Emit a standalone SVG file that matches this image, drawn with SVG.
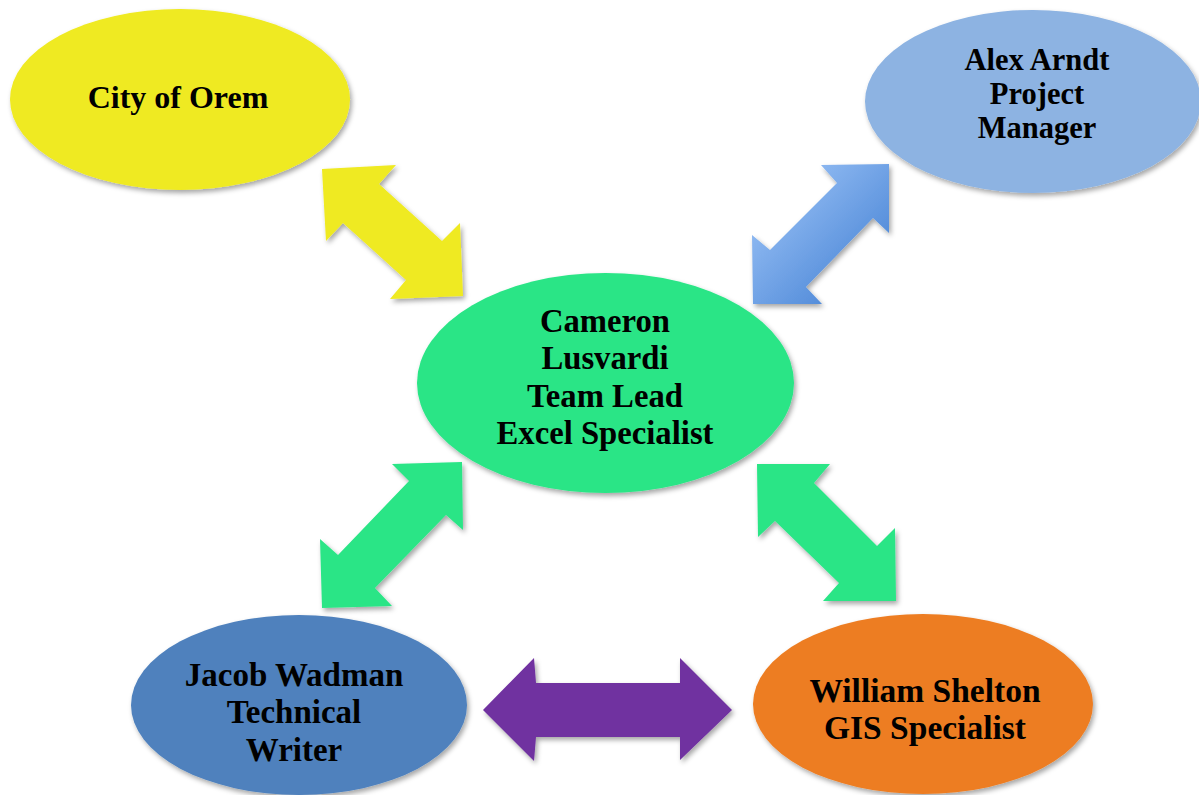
<svg xmlns="http://www.w3.org/2000/svg" width="1199" height="795" viewBox="0 0 1199 795">
  <style>
    .label { font-family: "Liberation Serif", "Times New Roman", serif; font-weight: bold; fill: #000; text-anchor: middle; }
    .shape { filter: url(#shadow); }
  </style>
  <defs>
    <filter id="shadow" x="-10%" y="-10%" width="125%" height="125%">
      <feDropShadow dx="2" dy="3" stdDeviation="2.5" flood-color="#000" flood-opacity="0.35"/>
    </filter>
    <linearGradient id="blueArrow" x1="0" y1="0" x2="1" y2="1">
      <stop offset="0" stop-color="#A6CBFB"/>
      <stop offset="1" stop-color="#3B7AD0"/>
    </linearGradient>
  </defs>

  <rect width="1199" height="795" fill="#fff"/>

  <!-- connectors: double-headed block arrows -->
  <g id="connectors">
    <polygon class="shape" fill="#EFEA20" points="322,169 396,165 379,184 442,241 460,223 463,296 390,299 406,280 343,223 326,241"/>
    <polygon class="shape" fill="url(#blueArrow)" points="889,164 821,165 837,183 770,250 752,235 753,304 822,304 806,287 873,218 889,233"/>
    <polygon class="shape" fill="#2AE586" points="462,462 392,464 409,481 338,555 320,539 322,608 392,606 375,588 446,515 463,530"/>
    <polygon class="shape" fill="#2AE586" points="757,464 830,464 814,483 877,546 895,528 896,601 823,601 839,583 775,521 758,537"/>
    <polygon class="shape" fill="#7030A0" points="483,710 534,658 536,683 680,683 680,658 732,710 680,760 680,737 536,737 534,761"/>
  </g>

  <g id="city-of-orem">
    <ellipse class="shape" cx="180" cy="99.5" rx="170" ry="90.5" fill="#EFEA20"/>
    <text class="label" x="178" y="108" font-size="32">City of Orem</text>
  </g>

  <g id="alex-arndt">
    <ellipse class="shape" cx="1033" cy="101.5" rx="168" ry="91.5" fill="#8DB3E2"/>
    <text class="label" x="1037" y="70" font-size="30.5">Alex Arndt</text>
    <text class="label" x="1037" y="104" font-size="30.5">Project</text>
    <text class="label" x="1037" y="138" font-size="30.5">Manager</text>
  </g>

  <g id="cameron-lusvardi">
    <ellipse class="shape" cx="605.5" cy="383" rx="188.5" ry="110" fill="#2AE586"/>
    <text class="label" x="605" y="332" font-size="32.7">Cameron</text>
    <text class="label" x="605" y="369" font-size="32.7">Lusvardi</text>
    <text class="label" x="605" y="407" font-size="32.7">Team Lead</text>
    <text class="label" x="605" y="444" font-size="32.7">Excel Specialist</text>
  </g>

  <g id="jacob-wadman">
    <ellipse class="shape" cx="299" cy="705" rx="168" ry="90" fill="#4F81BD"/>
    <text class="label" x="294" y="686" font-size="33">Jacob Wadman</text>
    <text class="label" x="294" y="723" font-size="33">Technical</text>
    <text class="label" x="294" y="761" font-size="33">Writer</text>
  </g>

  <g id="william-shelton">
    <ellipse class="shape" cx="923" cy="704" rx="170" ry="90" fill="#ED7D22"/>
    <text class="label" x="925" y="702" font-size="33.5">William Shelton</text>
    <text class="label" x="925" y="739" font-size="33.5">GIS Specialist</text>
  </g>
</svg>
